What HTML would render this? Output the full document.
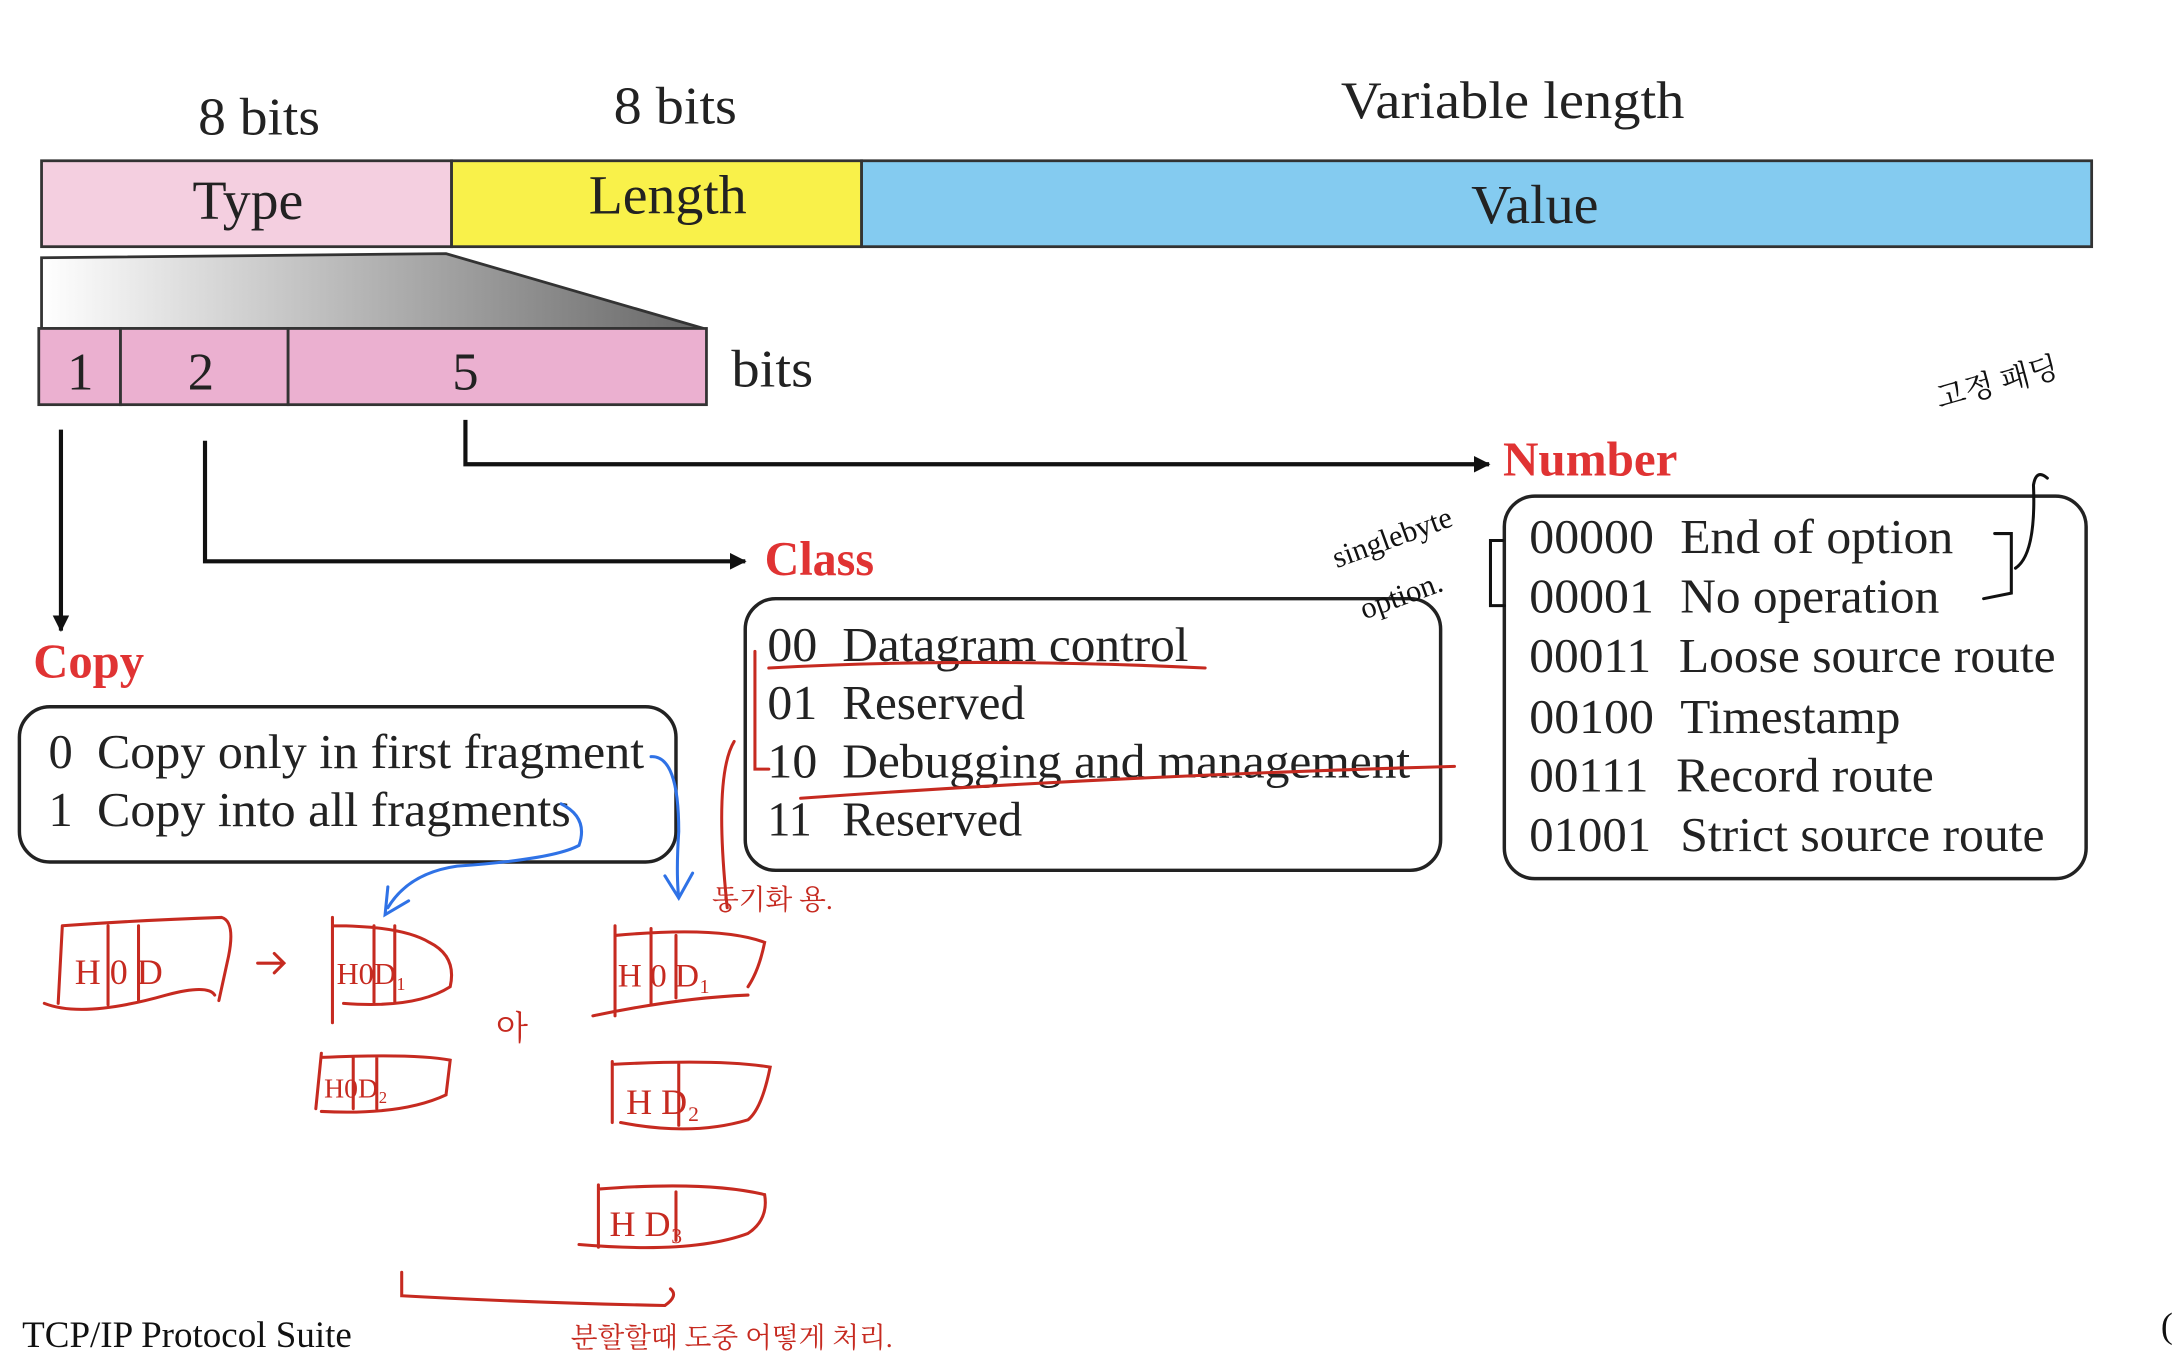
<!DOCTYPE html>
<html><head><meta charset="utf-8"><style>
html,body{margin:0;padding:0;background:#fff;}
svg{display:block;}
text{font-family:"Liberation Serif","Noto Serif CJK SC",serif;}
.h{font-family:"Liberation Sans","Noto Sans CJK KR",sans-serif;}
</style></head><body>
<svg width="2172" height="1372" viewBox="0 0 1568 990" preserveAspectRatio="none" xmlns="http://www.w3.org/2000/svg">
<defs>
<linearGradient id="g" x1="0" x2="1" y1="0" y2="0"><stop offset="0" stop-color="#fff"/><stop offset="1" stop-color="#666"/></linearGradient>
<marker id="a" markerWidth="12" markerHeight="12" refX="11" refY="6" orient="auto" markerUnits="userSpaceOnUse"><path d="M0,0 L12,6 L0,12 z" fill="#111"/></marker>
</defs>
<g font-size="38" fill="#222">
<text x="143" y="97" textLength="88" lengthAdjust="spacingAndGlyphs">8 bits</text>
<text x="443" y="89" textLength="89" lengthAdjust="spacingAndGlyphs">8 bits</text>
<text x="968" y="85" textLength="248" lengthAdjust="spacingAndGlyphs">Variable length</text>
</g>
<rect x="30" y="116" width="296" height="62" fill="#f4cfe0" stroke="#333" stroke-width="2"/>
<rect x="326" y="116" width="296" height="62" fill="#f9f14a" stroke="#333" stroke-width="2"/>
<rect x="622" y="116" width="888" height="62" fill="#84cbf0" stroke="#333" stroke-width="2"/>
<g font-size="40" fill="#222">
<text x="139" y="158" textLength="80" lengthAdjust="spacingAndGlyphs">Type</text>
<text x="425" y="154" textLength="114" lengthAdjust="spacingAndGlyphs">Length</text>
<text x="1062" y="161" textLength="92" lengthAdjust="spacingAndGlyphs">Value</text>
</g>
<path d="M30,186 L322,183 L508,237 L30,237 Z" fill="url(#g)" stroke="#333" stroke-width="2"/>
<rect x="28" y="237" width="59" height="55" fill="#ebb0d0" stroke="#333" stroke-width="2"/>
<rect x="87" y="237" width="121" height="55" fill="#ebb0d0" stroke="#333" stroke-width="2"/>
<rect x="208" y="237" width="302" height="55" fill="#ebb0d0" stroke="#333" stroke-width="2"/>
<g font-size="38" fill="#222" text-anchor="middle"><text x="58" y="281">1</text><text x="145" y="281">2</text><text x="336" y="281">5</text></g>
<text x="528" y="279" font-size="38" fill="#222" textLength="59" lengthAdjust="spacingAndGlyphs">bits</text>
<g stroke="#111" stroke-width="3" fill="none">
<path d="M44,310 V455" marker-end="url(#a)"/>
<path d="M148,318 V405 H538" marker-end="url(#a)"/>
<path d="M336,303 V335 H1075" marker-end="url(#a)"/>
</g>
<g font-size="35" font-weight="bold" fill="#e03333">
<text x="24" y="489" textLength="80" lengthAdjust="spacingAndGlyphs">Copy</text>
<text x="552" y="415" textLength="79" lengthAdjust="spacingAndGlyphs">Class</text>
<text x="1085" y="343" textLength="126" lengthAdjust="spacingAndGlyphs">Number</text>
</g>
<g fill="none" stroke="#222" stroke-width="2.5">
<rect x="14" y="510" width="474" height="112" rx="22"/>
<rect x="538" y="432" width="502" height="196" rx="22"/>
<rect x="1086" y="358" width="420" height="276" rx="22"/>
</g>
<g font-size="35" fill="#222">
<text x="35" y="554">0</text><text x="70" y="554" textLength="395" lengthAdjust="spacingAndGlyphs">Copy only in first fragment</text>
<text x="35" y="596">1</text><text x="70" y="596" textLength="342" lengthAdjust="spacingAndGlyphs">Copy into all fragments</text>
<text x="554" y="477" textLength="36" lengthAdjust="spacingAndGlyphs">00</text><text x="608" y="477" textLength="250" lengthAdjust="spacingAndGlyphs">Datagram control</text>
<text x="554" y="519" textLength="36" lengthAdjust="spacingAndGlyphs">01</text><text x="608" y="519" textLength="132" lengthAdjust="spacingAndGlyphs">Reserved</text>
<text x="554" y="561" textLength="36" lengthAdjust="spacingAndGlyphs">10</text><text x="608" y="561" textLength="410" lengthAdjust="spacingAndGlyphs">Debugging and management</text>
<text x="554" y="603" textLength="32" lengthAdjust="spacingAndGlyphs">11</text><text x="608" y="603" textLength="130" lengthAdjust="spacingAndGlyphs">Reserved</text>
<text x="1104" y="399" textLength="90" lengthAdjust="spacingAndGlyphs">00000</text><text x="1213" y="399" textLength="197" lengthAdjust="spacingAndGlyphs">End of option</text>
<text x="1104" y="442" textLength="90" lengthAdjust="spacingAndGlyphs">00001</text><text x="1213" y="442" textLength="187" lengthAdjust="spacingAndGlyphs">No operation</text>
<text x="1104" y="485" textLength="88" lengthAdjust="spacingAndGlyphs">00011</text><text x="1212" y="485" textLength="272" lengthAdjust="spacingAndGlyphs">Loose source route</text>
<text x="1104" y="529" textLength="90" lengthAdjust="spacingAndGlyphs">00100</text><text x="1213" y="529" textLength="159" lengthAdjust="spacingAndGlyphs">Timestamp</text>
<text x="1104" y="571" textLength="86" lengthAdjust="spacingAndGlyphs">00111</text><text x="1210" y="571" textLength="186" lengthAdjust="spacingAndGlyphs">Record route</text>
<text x="1104" y="614" textLength="88" lengthAdjust="spacingAndGlyphs">01001</text><text x="1213" y="614" textLength="263" lengthAdjust="spacingAndGlyphs">Strict source route</text>
</g>
<text x="16" y="972" font-size="27" fill="#111" textLength="238" lengthAdjust="spacingAndGlyphs">TCP/IP Protocol Suite</text>
<g fill="none" stroke="#c62a20" stroke-width="2.2" stroke-linecap="round">
<path d="M555,482 Q700,474 870,482"/>
<path d="M545,470 V555 H555"/>
<path d="M578,576 Q800,560 1050,553"/>
<path d="M530,535 Q515,560 525,655"/>
<path d="M45,668 L42,724 M45,668 Q100,664 160,662 Q170,665 165,690 L158,722 M32,724 Q60,735 120,718 Q150,710 155,718 M78,668 V725 M100,668 V723"/>
<path d="M240,662 V738 M240,668 Q290,668 310,680 Q330,690 325,712 Q300,728 248,724 M270,668 V723 M285,668 V723"/>
<path d="M232,760 L228,800 M232,763 Q300,760 325,765 L322,790 Q290,805 232,802 M255,763 V800 M272,763 V800"/>
<path d="M444,668 V733 M444,675 Q520,668 552,680 Q548,700 540,712 M428,733 Q490,720 540,718 M470,670 V725 M488,675 V720"/>
<path d="M442,766 V810 M442,768 Q520,764 556,770 Q550,800 540,808 Q500,820 448,810 M490,768 V812"/>
<path d="M432,855 V900 M432,858 Q510,852 552,862 Q555,880 540,890 Q500,905 418,898 M488,860 V895"/>
<path d="M290,918 V935 Q380,940 480,942 Q490,935 484,930"/>
<path d="M186,695 H204 M198,688 L205,695 L198,702"/>
</g>
<g fill="none" stroke="#2f72e6" stroke-width="2.2" stroke-linecap="round">
<path d="M470,546 Q490,545 490,600 Q488,630 490,648 M480,632 L490,648 L500,630"/>
<path d="M405,580 Q425,590 418,610 Q400,620 330,625 Q295,630 280,655 M280,640 L278,660 L295,650"/>
</g>
<g fill="none" stroke="#111" stroke-width="2.2" stroke-linecap="round">
<path d="M1085,390 H1076 V437 H1086"/>
<path d="M1440,385 H1452 V428 L1432,432"/>
<path d="M1455,410 Q1470,400 1468,350 Q1470,338 1478,345"/>
</g>
<g class="h" fill="#c62a20" font-size="20">
<text x="514" y="656">동기화 용.</text>
<text x="412" y="972">분할할때 도중 어떻게 처리.</text>
<text x="358" y="750" font-size="24">아</text>
<text x="54" y="710" font-size="26">H 0  D</text>
<text x="243" y="710" font-size="22">H0D₁</text>
<text x="234" y="792" font-size="20">H0D₂</text>
<text x="446" y="712" font-size="24">H 0 D₁</text>
<text x="452" y="804" font-size="26">H  D₂</text>
<text x="440" y="892" font-size="26">H  D₃</text>
</g>
<g class="h" fill="#111" font-size="22">
<text x="965" y="410" transform="rotate(-20 965 410)">singlebyte</text>
<text x="985" y="447" transform="rotate(-20 985 447)">option.</text>
<text x="1400" y="295" transform="rotate(-15 1400 295)">고정 패딩</text>
</g>
<text x="1560" y="965" font-size="26" fill="#111">(</text>
</svg>
</body></html>
